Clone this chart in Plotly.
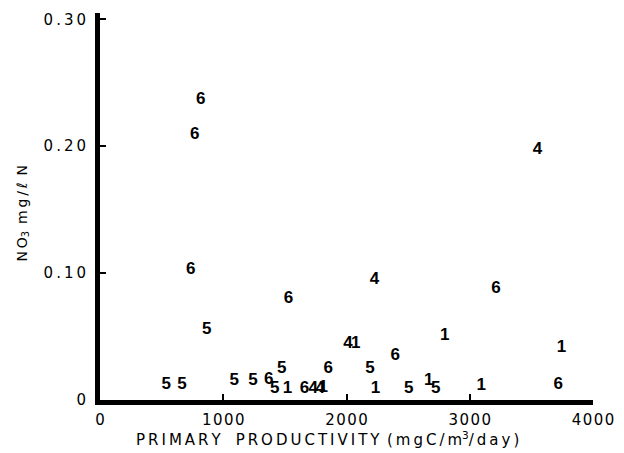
import plotly.graph_objects as go

# Data (primary productivity vs NO3), labelled by station number
productivity = [817, 769, 737, 865, 1530, 2228, 3550, 3213, 2797, 3745, 3718,
                2011, 2075, 2396, 2191, 2504, 2668, 2724, 2235, 3093,
                537, 665, 1090, 1242, 1370, 1418, 1522, 1474, 1659, 1731, 1787, 1811, 1851]
nitrate = [0.237, 0.209, 0.103, 0.055, 0.080, 0.095, 0.197, 0.088, 0.051, 0.041, 0.012,
           0.044, 0.044, 0.035, 0.025, 0.009, 0.015, 0.009, 0.009, 0.011,
           0.012, 0.012, 0.015, 0.015, 0.016, 0.009, 0.009, 0.025, 0.009, 0.009, 0.009, 0.010, 0.025]
station = ["6", "6", "6", "5", "6", "4", "4", "6", "1", "1", "6",
           "4", "1", "6", "5", "5", "1", "5", "1", "1",
           "5", "5", "5", "5", "6", "5", "1", "5", "6", "4", "4", "1", "6"]

TS = "\u2009"
HS = "\u200a"
x_tickvals = [0, 1000, 2000, 3000, 4000]
x_ticktext = [HS.join(str(v)) for v in x_tickvals]
y_tickvals = [0, 0.10, 0.20, 0.30]
y_ticktext = ["0", TS.join("0.10"), TS.join("0.20"), TS.join("0.30")]

x_title = (TS.join("PRIMARY") + "\u2003" + TS.join("PRODUCTIVITY") + "\u2002" +
           TS.join("(mgC/m") + "<sup>3</sup>" + TS.join("/day)"))
y_title = TS.join("NO") + "<sub>3</sub>" + "\u2002" + TS.join("mg/\u2113") + "\u2002N"

fig = go.Figure()
fig.add_trace(go.Scatter(
    x=productivity, y=nitrate, text=station, mode="text",
    textposition="middle center",
    textfont=dict(family="Liberation Sans", size=17, color="black", weight="bold"),
    showlegend=False, hoverinfo="x+y+text",
))

axis_common = dict(showline=True, linewidth=5, linecolor="black",
                   ticks="inside", ticklen=6, tickwidth=2, tickcolor="black",
                   showgrid=False, zeroline=False, fixedrange=True,
                   tickfont=dict(family="DejaVu Sans", size=15, color="black"))

fig.update_layout(
    width=616, height=445,
    margin=dict(l=92, r=31, t=3, b=53),
    paper_bgcolor="white", plot_bgcolor="white",
    font=dict(family="DejaVu Sans", size=15, color="black"),
    xaxis=dict(range=[0, 4000], tickvals=x_tickvals, ticktext=x_ticktext,
               ticklabelstandoff=2, **axis_common),
    yaxis=dict(range=[0, 0.305], tickvals=y_tickvals, ticktext=y_ticktext,
               ticklabelstandoff=6, **axis_common),
    annotations=[
        dict(text=x_title, xref="paper", yref="paper", x=0.462, y=0,
             xanchor="center", yanchor="middle", yshift=-39, showarrow=False,
             font=dict(family="DejaVu Sans", size=15, color="black")),
        dict(text=y_title, xref="paper", yref="paper",
             x=0, y=0.482, xanchor="center", yanchor="middle", xshift=-77,
             textangle=-90, showarrow=False,
             font=dict(family="DejaVu Sans", size=14, color="black")),
    ],
)

fig.write_html("out.html", config={"displayModeBar": False})
